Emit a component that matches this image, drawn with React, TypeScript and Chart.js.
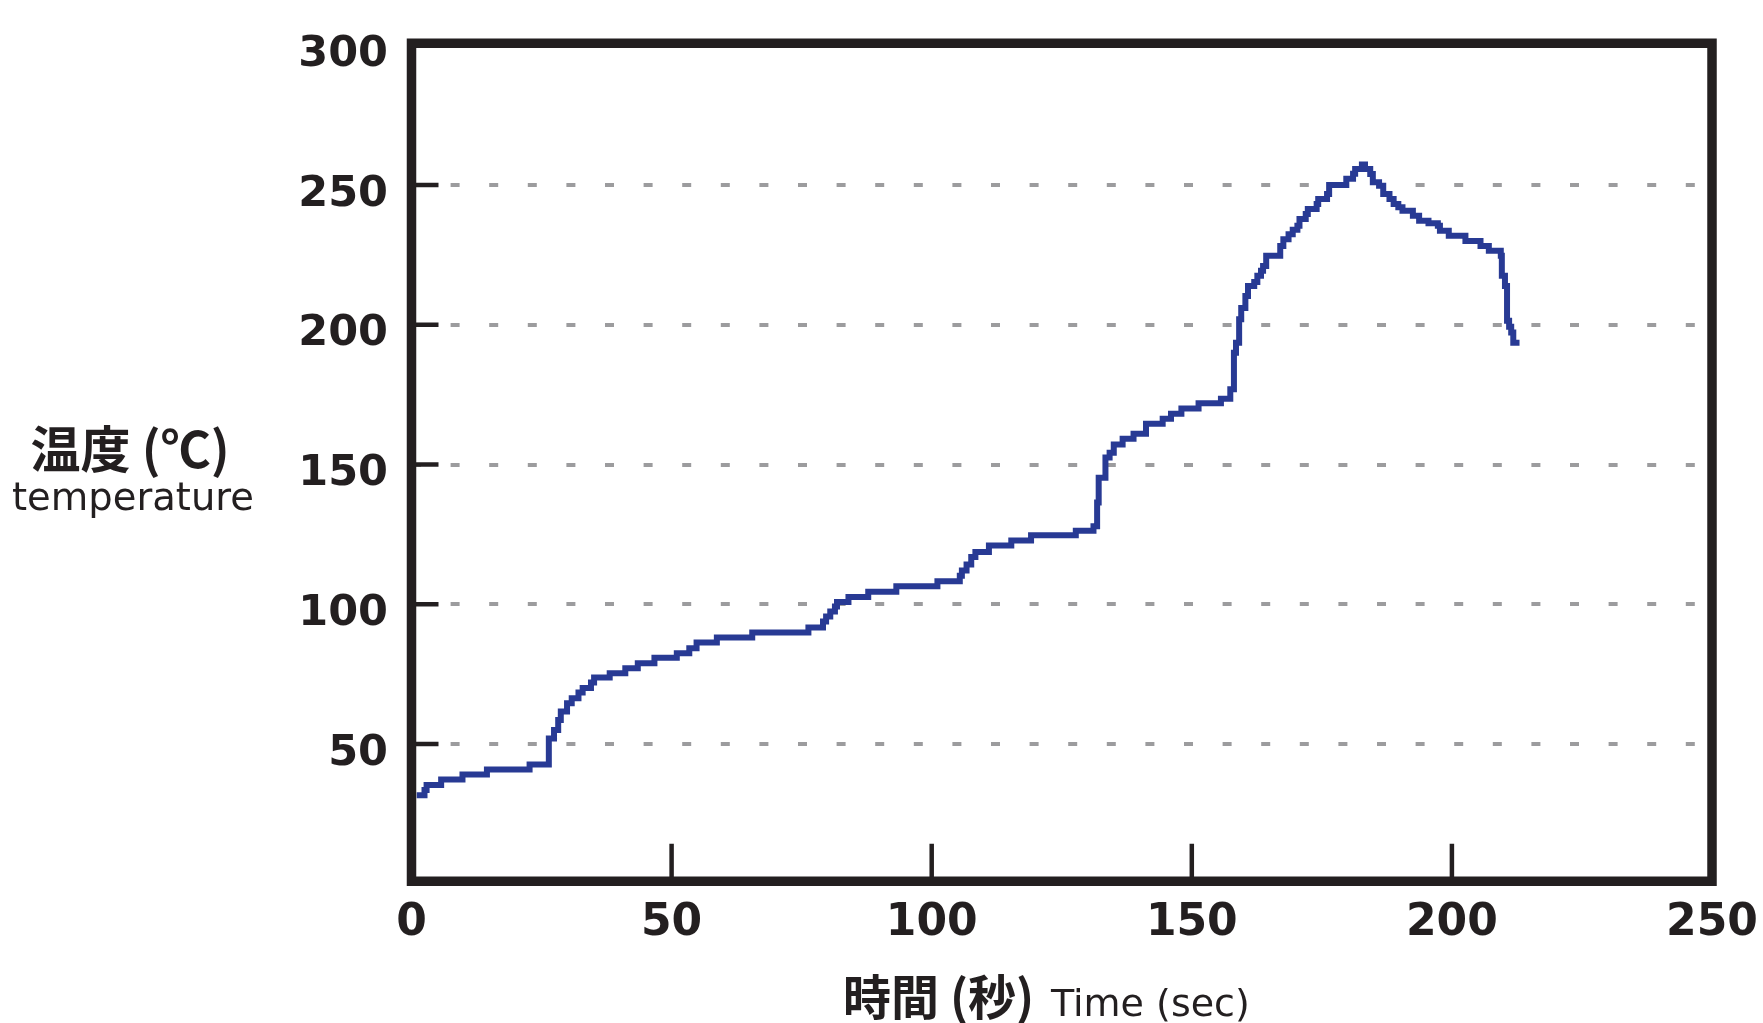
import React, { useEffect, useRef } from 'react';
import { Chart, registerables } from 'chart.js';

Chart.register(...registerables);

// ---- data ----
const timeSec = [
  1.0, 2.5, 2.9, 5.7, 9.8, 14.5, 22.7, 26.4, 27.4, 28.2,
  28.7, 29.9, 30.8, 32.1, 32.9, 34.5, 35.1, 38.1, 41.1, 43.5,
  46.7, 51.0, 53.4, 54.8, 58.7, 65.5, 76.3, 79.1, 79.7, 80.5,
  81.4, 81.8, 84.0, 87.8, 93.2, 101.1, 105.4, 105.8, 106.7, 107.6,
  108.4, 111.0, 115.3, 119.1, 127.7, 131.1, 131.8, 132.1, 133.4, 134.2,
  135.0, 136.7, 138.8, 141.2, 144.4, 146.0, 148.0, 151.3, 155.6, 157.4,
  158.1, 158.5, 159.1, 159.5, 160.3, 160.8, 162.0, 162.6, 163.3, 163.7,
  164.3, 167.0, 167.6, 168.6, 169.4, 170.3, 170.7, 171.9, 172.3, 174.0,
  174.3, 176.0, 176.4, 179.7, 181.0, 181.4, 182.7, 183.3, 184.3, 184.8,
  186.0, 186.8, 188.0, 188.8, 189.7, 190.5, 192.5, 193.7, 195.5, 197.3,
  197.7, 199.4, 202.6, 205.5, 207.1, 209.4, 209.6, 210.2, 210.6, 211.0,
  211.4, 211.8, 213.0,
];

const tempC = [
  31.7, 33.5, 35.3, 37.3, 39.1, 40.9, 42.7, 52.0, 55.0, 58.6,
  61.6, 64.6, 66.4, 68.4, 70.0, 72.0, 73.8, 75.3, 77.1, 78.9,
  80.9, 82.5, 84.3, 86.3, 88.1, 89.9, 91.7, 93.8, 95.6, 97.4,
  99.2, 100.8, 102.6, 104.5, 106.4, 108.2, 110.2, 112.1, 114.2, 116.9,
  118.7, 121.0, 122.8, 124.7, 126.3, 127.9, 136.4, 145.3, 152.5, 154.2,
  157.2, 159.2, 161.0, 164.6, 166.4, 168.2, 170.0, 171.9, 173.5, 176.9,
  190.0, 193.6, 202.0, 206.0, 210.3, 213.9, 215.3, 217.5, 219.3, 221.0,
  224.7, 228.2, 230.6, 232.4, 234.0, 235.4, 237.8, 239.6, 241.4, 243.2,
  245.0, 246.8, 250.0, 252.2, 254.0, 255.7, 257.3, 255.7, 253.9, 251.0,
  249.7, 246.8, 245.0, 243.2, 242.0, 240.8, 239.0, 237.2, 236.3, 235.4,
  233.6, 231.8, 230.0, 228.2, 226.5, 224.7, 217.5, 213.9, 201.4, 199.3,
  197.2, 193.6, 193.6,
];

const xTickValues = [0, 50, 100, 150, 200, 250];
const yTickValues = [50, 100, 150, 200, 250, 300];

const xTitleJa = '時間 (秒)';
const xTitleEn = 'Time (sec)';
const yTitleJa = '温度 (℃)';
const yTitleEn = 'temperature';

const INK = '#231f20';
const LINE = '#283a94';
const GRID = '#9c9c9e';

const framePlugin = {
  id: 'frameAndTitles',
  afterDraw(chart: any) {
    const { ctx, chartArea: a, scales } = chart;
    ctx.save();
    ctx.strokeStyle = INK;
    ctx.lineCap = 'butt';
    // inward tick marks
    ctx.lineWidth = 4.5;
    yTickValues.slice(0, -1).forEach((v) => {
      const y = scales.y.getPixelForValue(v);
      ctx.beginPath();
      ctx.moveTo(a.left, y);
      ctx.lineTo(a.left + 27, y);
      ctx.stroke();
    });
    xTickValues.slice(1, -1).forEach((v) => {
      const x = scales.x.getPixelForValue(v);
      ctx.beginPath();
      ctx.moveTo(x, a.bottom - 3);
      ctx.lineTo(x, a.bottom - 40);
      ctx.stroke();
    });
    // frame
    ctx.lineWidth = 9.5;
    ctx.lineJoin = 'miter';
    ctx.strokeRect(a.left, a.top - 2, a.right - a.left, a.bottom - a.top - 0.5);

    // titles
    ctx.fillStyle = INK;
    ctx.textAlign = 'center';
    ctx.textBaseline = 'middle';
    ctx.font = '700 50px "Noto Sans CJK JP"';
    ctx.fillText(yTitleJa, 130, 449);
    ctx.textBaseline = 'alphabetic';
    ctx.font = '400 38.5px "DejaVu Sans"';
    ctx.fillText(yTitleEn, 133, 510);

    ctx.textAlign = 'left';
    ctx.textBaseline = 'middle';
    ctx.font = '700 48px "Noto Sans CJK JP"';
    ctx.fillText(xTitleJa, 843, 997);
    ctx.textBaseline = 'alphabetic';
    ctx.font = '400 38px "DejaVu Sans"';
    ctx.fillText(xTitleEn, 1051, 1016);
    ctx.restore();
  },
};

export default function App() {
  const ref = useRef<HTMLCanvasElement | null>(null);

  useEffect(() => {
    if (!ref.current) return;
    const points = timeSec.map((t, i) => ({ x: t, y: tempC[i] }));
    const chart = new Chart(ref.current, {
      type: 'line',
      data: {
        datasets: [
          {
            data: points,
            borderColor: LINE,
            borderWidth: 6,
            stepped: 'before',
            pointRadius: 0,
            fill: false,
            borderCapStyle: 'butt',
            borderJoinStyle: 'miter',
          },
        ],
      },
      options: {
        responsive: false,
        animation: false,
        devicePixelRatio: 1,
        layout: { padding: { top: 45.25, right: 51, left: 0, bottom: 0 } },
        plugins: { legend: { display: false }, tooltip: { enabled: false } },
        scales: {
          x: {
            type: 'linear',
            min: 0,
            max: 250,
            afterFit: (s: any) => {
              s.height = 1023 - 883.75;
              s.paddingLeft = 0;
              s.paddingRight = 0;
              s.paddingTop = 0;
              s.paddingBottom = 0;
            },
            afterBuildTicks: (s: any) => {
              s.ticks = xTickValues.map((v) => ({ value: v }));
            },
            grid: { display: false, drawTicks: false },
            border: { display: false },
            ticks: {
              padding: 13,
              color: INK,
              maxRotation: 0,
              autoSkip: false,
              font: { family: '"DejaVu Sans"', weight: 'bold', size: 44, lineHeight: 1.2 },
              callback: (v: any) => String(v),
            },
          },
          y: {
            type: 'linear',
            min: 0,
            max: 300,
            afterFit: (s: any) => {
              s.width = 411.5;
              s.paddingLeft = 0;
              s.paddingRight = 0;
              s.paddingTop = 0;
              s.paddingBottom = 0;
            },
            afterBuildTicks: (s: any) => {
              s.ticks = yTickValues.map((v) => ({ value: v }));
            },
            grid: {
              drawTicks: false,
              lineWidth: 4,
              color: (c: any) => (c.tick && c.tick.value >= 300 ? 'rgba(0,0,0,0)' : GRID),
            },
            border: { display: false, dash: [9, 29.6], dashOffset: 0 },
            ticks: {
              padding: 23.5,
              labelOffset: 9.5,
              color: INK,
              autoSkip: false,
              font: { family: '"DejaVu Sans"', weight: 'bold', size: 43, lineHeight: 1.2 },
              callback: (v: any) => String(v),
            },
          },
        },
      },
      plugins: [framePlugin],
    });
    return () => chart.destroy();
  }, []);

  return (
    <div style={{ position: 'absolute', left: 0, top: 0, width: 1763, height: 1023, background: '#fff' }}>
      <canvas ref={ref} width={1763} height={1023} style={{ display: 'block', width: 1763, height: 1023 }} />
    </div>
  );
}
